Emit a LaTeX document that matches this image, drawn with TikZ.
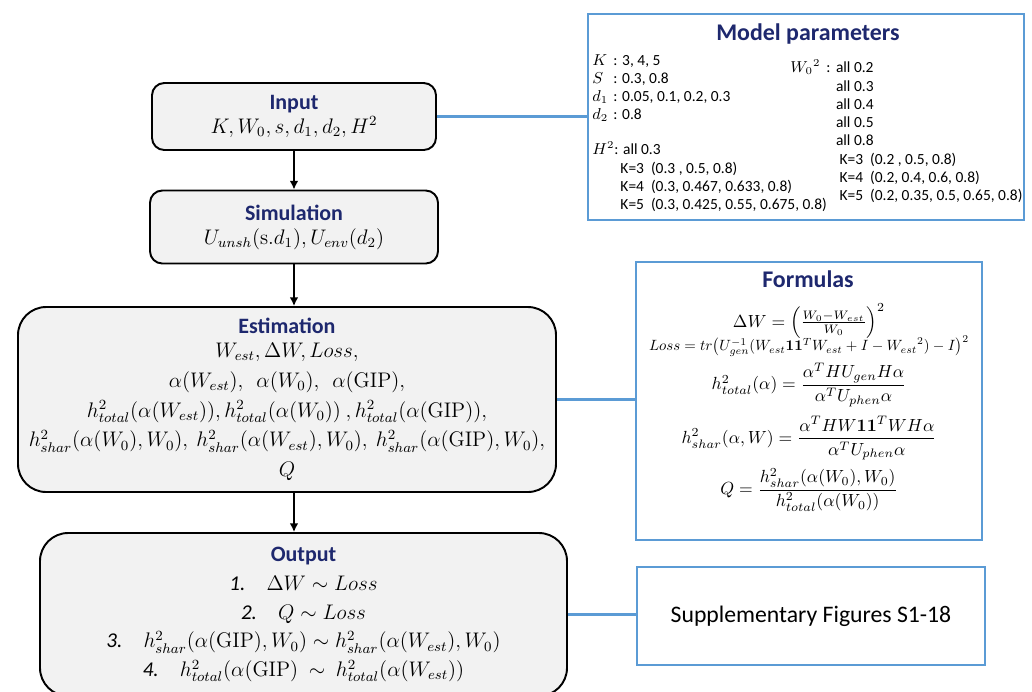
\documentclass[tikz,border=0pt]{standalone}
\usepackage[no-math]{fontspec}
\setmainfont{Carlito}
\usetikzlibrary{calc,arrows.meta}

\definecolor{titleblue}{RGB}{30,40,110}
\definecolor{linkblue}{RGB}{91,155,213}
\definecolor{boxgray}{RGB}{242,242,242}

\newcommand{\boxtitle}[1]{{\color{titleblue}\bfseries\fontsize{12.5}{14}\selectfont #1}}
\newcommand{\sidetitle}[1]{{\color{titleblue}\bfseries\fontsize{13.6}{15}\selectfont #1}}

\begin{document}
\begin{tikzpicture}[x=0.02cm, y=-0.02cm,
    flow/.style={draw=black, line width=1.1pt, fill=boxgray, rounded corners=#1,
      align=center, inner sep=0pt},
    flow/.default=7pt,
    linkbox/.style={draw=linkblue, line width=1.6pt, fill=white, inner sep=0pt},
    link/.style={draw=linkblue, line width=1.2pt},
    flowarrow/.style={line width=0.9pt, -{Latex[length=5pt,width=5pt]}},
    partxt/.style={font=\fontsize{8.8}{10.4}\selectfont, align=left, inner sep=0pt},
    formula/.style={font=\fontsize{9.8}{11}\selectfont, inner sep=0pt}]

      \def \px{0.02cm}
      \useasboundingbox (0,0) rectangle (1032,691);

      % Draw the flow chart boxes
      \node[flow, minimum width=284*\px, minimum height=67*\px,
            font=\fontsize{11.5}{13.6}\selectfont] (input) at (294,116.5)
            {\boxtitle{Input}\\ $K, W_0, s, d_1, d_2, H^2$};
      \node[flow, minimum width=288*\px, minimum height=73*\px,
            font=\fontsize{11.5}{13.6}\selectfont] (sim) at (294,227)
            {\boxtitle{Simulation}\\ $U_{unsh}(\mathrm{s}.d_1), U_{env}(d_2)$};
      \node[flow=16pt, minimum width=538*\px, minimum height=185*\px,
            font=\fontsize{12}{17}\selectfont] (est) at (287,399.5)
            {\boxtitle{Estimation}\\[-3.4pt]
             $W_{est},\Delta W, Loss,$\\
             $\alpha(W_{est}),\ \ \alpha(W_0),\ \ \alpha(\mathrm{GIP}),$\\
             $h^2_{total}(\alpha(W_{est})), h^2_{total}(\alpha(W_0))\ , h^2_{total}(\alpha(\mathrm{GIP})),$\\
             $h^2_{shar}(\alpha(W_0),W_0),\ h^2_{shar}(\alpha(W_{est}),W_0),\ h^2_{shar}(\alpha(\mathrm{GIP}),W_0),$\\
             $Q$};
      \node[flow=16pt, minimum width=527*\px, minimum height=163*\px,
            font=\fontsize{12}{16.4}\selectfont] (out) at (303.5,614.5)
            {\boxtitle{Output}\\
             \textit{1.}\quad $\Delta W \sim Loss$\\
             \textit{2.}\quad $Q \sim Loss$\\
             \textit{3.}\quad $h^2_{shar}(\alpha(\mathrm{GIP}),W_0) \sim h^2_{shar}(\alpha(W_{est}),W_0)$\\
             \textit{4.}\quad $h^2_{total}(\alpha(\mathrm{GIP})\ \sim\ h^2_{total}(\alpha(W_{est}))$};

      % Draw the blue side boxes
      \node[linkbox, minimum width=436*\px, minimum height=206*\px] (param) at (806,117) {};
      \node[linkbox, minimum width=346*\px, minimum height=278*\px] (formulas) at (809,401) {};
      \node[linkbox, minimum width=348*\px, minimum height=98*\px,
            font=\fontsize{13.5}{15}\selectfont] (supp) at (811,616) {Supplementary Figures S1-18};

      % model parameters
      \node[inner sep=0pt] (ptitle) at (808,34) {\sidetitle{Model parameters}};
      \node[partxt, anchor=north west] (pleft) at (592,54)
            {\makebox[12pt][l]{$K$}: 3, 4, 5\\
             \makebox[12pt][l]{$S$}: 0.3, 0.8\\
             \makebox[12pt][l]{$d_1$}: 0.05, 0.1, 0.2, 0.3\\
             \makebox[12pt][l]{$d_2$}: 0.8};
      \node[partxt, anchor=north west] (hpar) at (592,141)
            {$H^2$: all 0.3\\
             \hspace{16pt}K=3 \ (0.3 , 0.5, 0.8)\\
             \hspace{16pt}K=4 \ (0.3, 0.467, 0.633, 0.8)\\
             \hspace{16pt}K=5 \ (0.3, 0.425, 0.55, 0.675, 0.8)};
      \node[partxt, anchor=north west] (wpar) at (790,59)
            {\makebox[26pt][l]{${W_0}^2$ \,:}all 0.2\\
             \hspace{26pt}all 0.3\\
             \hspace{26pt}all 0.4\\
             \hspace{26pt}all 0.5\\
             \hspace{26pt}all 0.8\\
             \hspace{28pt}K=3 \ (0.2 , 0.5, 0.8)\\
             \hspace{28pt}K=4 \ (0.2, 0.4, 0.6, 0.8)\\
             \hspace{28pt}K=5 \ (0.2, 0.35, 0.5, 0.65, 0.8)};

      % formulas
      \node[inner sep=0pt] (ftitle) at (808,279) {\sidetitle{Formulas}};
      \node[formula] (fdw) at (809,321)
            {$\Delta W = \left(\frac{W_0 - W_{est}}{W_0}\right)^2$};
      \node[formula] (floss) at (809,346)
            {\resizebox{6.4cm}{!}{$Loss = tr\bigl(U_{gen}^{-1}(W_{est}\mathbf{11}^T W_{est} + I - {W_{est}}^2) - I\bigr)^2$}};
      \node[formula] (ftot) at (809,385)
            {$h^2_{total}(\alpha) = \displaystyle\frac{\alpha^T H U_{gen} H\alpha}{\alpha^T U_{phen}\alpha}$};
      \node[formula] (fshar) at (809,438)
            {$h^2_{shar}(\alpha,W) = \displaystyle\frac{\alpha^T H W\mathbf{11}^T W H\alpha}{\alpha^T U_{phen}\alpha}$};
      \node[formula] (fq) at (809,490)
            {$Q = \displaystyle\frac{h^2_{shar}(\alpha(W_0),W_0)}{h^2_{total}(\alpha(W_0))}$};

      % arrows down the flow and links to the side boxes
      \foreach \a/\b in {input/sim, sim/est, est/out}{
        \draw[flowarrow] (\a.south -| input) -- (\b.north -| input);
      }
      \foreach \a/\b in {input/param, est/formulas, out/supp}{
        \draw[link] (\a.east) -- (\a.east -| \b.west);
      }

    \end{tikzpicture}
\end{document}
